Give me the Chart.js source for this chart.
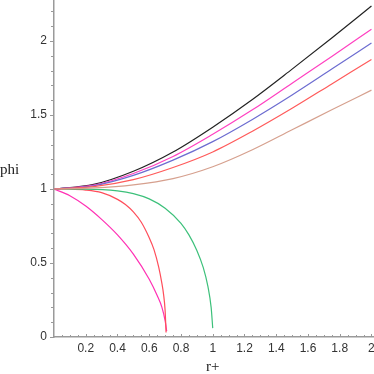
<!DOCTYPE html>
<html>
<head>
<meta charset="utf-8">
<script src="https://cdn.jsdelivr.net/npm/chart.js@4.4.1/dist/chart.umd.min.js"></script>
<style>
  html, body { margin: 0; padding: 0; background: #fff; }
  #wrap { width: 374px; height: 374px; }
</style>
</head>
<body>
<div id="wrap"><canvas id="phiChart"></canvas></div>
<script>
// values

// upper family, all sampled at the same r+
const rUpper = [0, 0.25, 0.5, 0.75, 1, 1.25, 1.5, 1.75, 2];
const phiBlack = [1, 1.031, 1.12, 1.25, 1.418, 1.605, 1.81, 2.02, 2.236];
const phiMagenta = [1, 1.026, 1.105, 1.22, 1.37, 1.535, 1.715, 1.895, 2.08];
const phiBlue = [1, 1.022, 1.092, 1.195, 1.32, 1.47, 1.635, 1.81, 1.986];
const phiRed = [1, 1.016, 1.063, 1.145, 1.25, 1.39, 1.545, 1.71, 1.875];
const phiBrown = [1, 1.007, 1.028, 1.07, 1.15, 1.265, 1.4, 1.535, 1.668];

// lower family, each ends where phi drops towards 0
const rGreen = [0, 0.2, 0.4, 0.5, 0.6, 0.7, 0.8, 0.85, 0.9, 0.94, 0.97, 0.99, 1.0];
const phiGreen = [1, 0.999, 0.987, 0.969, 0.933, 0.87, 0.768, 0.69, 0.585, 0.47, 0.34, 0.2, 0.06];

const rRedLow = [0, 0.1, 0.2, 0.3, 0.4, 0.45, 0.5, 0.55, 0.6, 0.63, 0.66, 0.68, 0.69, 0.7, 0.706];
const phiRedLow = [1, 0.999, 0.993, 0.975, 0.93, 0.895, 0.845, 0.775, 0.67, 0.59, 0.47, 0.36, 0.29, 0.18, 0.03];

const rMagLow = [0, 0.1, 0.2, 0.3, 0.4, 0.5, 0.6, 0.65, 0.68, 0.7, 0.71];
const phiMagLow = [1, 0.955, 0.885, 0.795, 0.69, 0.56, 0.39, 0.28, 0.2, 0.11, 0.04];

const yTicks = [0, 0.5, 1, 1.5, 2];
const xLabelStep = 0.2;

function pts(xs, ys) {
    return xs.map((x, i) => ({ x: x, y: ys[i] }));
}

function curve(xs, ys, color) {
    return {
        data: pts(xs, ys),
        borderColor: color,
        borderWidth: 1.2,
        showLine: true,
        pointRadius: 0,
        cubicInterpolationMode: 'monotone',
        fill: false
    };
}

const fmt = v => String(Number(v.toFixed(2)));

// no extra room around the plot: the reference axes run to the canvas edges
function noPad(s) {
    s.paddingTop = 0;
    s.paddingBottom = 0;
    s.paddingLeft = 0;
    s.paddingRight = 0;
}

// small tick marks + axis titles (the reference shows them outside the usual chart.js places)
const decor = {
    id: 'decor',
    afterDraw(chart) {
        const { ctx, scales: { x, y }, chartArea } = chart;
        ctx.save();
        ctx.strokeStyle = '#999';
        ctx.lineWidth = 1;
        for (let i = 0; i <= 22; i++) {
            const py = Math.round(y.getPixelForValue(i / 10)) + 0.5;
            const len = i % 5 === 0 ? 4 : 3;
            ctx.beginPath();
            ctx.moveTo(chartArea.left - len, py);
            ctx.lineTo(chartArea.left, py);
            ctx.stroke();
        }
        for (let i = 1; i <= 40; i++) {
            const px = Math.round(x.getPixelForValue(i / 20)) + 0.5;
            const len = i % 4 === 0 ? 3 : 2;
            ctx.beginPath();
            ctx.moveTo(px, chartArea.bottom);
            ctx.lineTo(px, chartArea.bottom - len);
            ctx.stroke();
        }
        ctx.fillStyle = '#222';
        ctx.font = '15px "Liberation Serif"';
        ctx.textBaseline = 'middle';
        ctx.textAlign = 'left';
        ctx.fillText('phi', 0, 170);
        ctx.textAlign = 'center';
        ctx.fillText('r+', x.getPixelForValue(1), 367);
        ctx.restore();
    }
};

new Chart(document.getElementById('phiChart'), {
    type: 'scatter',
    data: {
        datasets: [
            curve(rUpper, phiBrown, '#d6a08e'),
            curve(rUpper, phiRed, '#ff5a5a'),
            curve(rUpper, phiBlue, '#6c6cd0'),
            curve(rUpper, phiMagenta, '#ff40c0'),
            curve(rUpper, phiBlack, '#222222'),
            curve(rGreen, phiGreen, '#3cc07a'),
            curve(rRedLow, phiRedLow, '#ff4d5a'),
            curve(rMagLow, phiMagLow, '#ff30b4')
        ]
    },
    options: {
        responsive: true,
        maintainAspectRatio: false,
        animation: false,
        layout: { autoPadding: false, padding: 0 },
        plugins: {
            legend: { display: false },
            tooltip: { enabled: false }
        },
        scales: {
            x: {
                type: 'linear',
                min: 0,
                max: 2.016,
                afterFit: s => { s.height = 37; noPad(s); },
                border: { display: true, color: '#9a9a9a', width: 1.5 },
                grid: { drawOnChartArea: false, drawTicks: false },
                ticks: {
                    stepSize: xLabelStep,
                    includeBounds: false,
                    autoSkip: false,
                    maxRotation: 0,
                    padding: 4,
                    color: '#333',
                    font: { family: '"Liberation Sans"', size: 12 },
                    callback: v => (v === 0 ? '' : fmt(v))
                }
            },
            y: {
                type: 'linear',
                min: 0,
                max: 2.277,
                afterFit: s => { s.width = 54; noPad(s); },
                border: { display: true, color: '#9a9a9a', width: 1.5 },
                grid: { drawOnChartArea: false, drawTicks: false },
                afterBuildTicks: s => { s.ticks = yTicks.map(v => ({ value: v })); },
                ticks: {
                    autoSkip: false,
                    padding: 7,
                    color: '#333',
                    font: { family: '"Liberation Sans"', size: 12 },
                    callback: v => fmt(v)
                }
            }
        }
    },
    plugins: [decor]
});
</script>
</body>
</html>
